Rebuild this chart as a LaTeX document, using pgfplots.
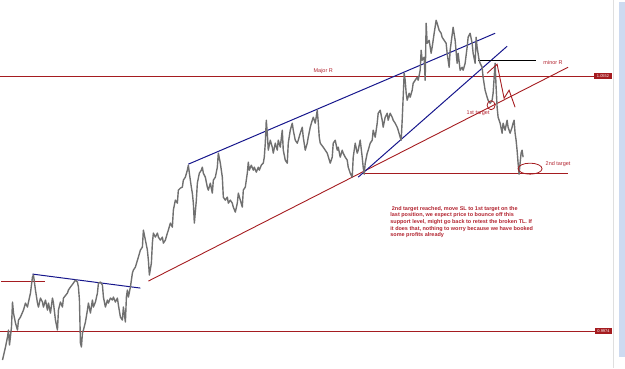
\documentclass[border=0pt]{standalone}
\usepackage{pgfplots}
\pgfplotsset{compat=1.18}
\usepackage{fontspec}
\setmainfont{Liberation Sans}
\definecolor{pricegray}{RGB}{112,112,112}
\definecolor{lred}{RGB}{165,28,32}
\definecolor{tred}{RGB}{178,36,48}
\definecolor{lblue}{RGB}{22,22,140}
\definecolor{sbar}{RGB}{205,218,240}
\begin{document}
\begin{tikzpicture}
\begin{axis}[
  scale only axis, width=625bp, height=368bp,
  xmin=0, xmax=625, ymin=0, ymax=368, y dir=reverse,
  ticks=none, axis line style={draw=none},
  clip=false
]
% scrollbar / frame decorations
\fill[sbar] (axis cs:619,2) rectangle (axis cs:625,357);
\draw[gray!25, line width=0.6pt] (axis cs:613,0) -- (axis cs:613,368);
% horizontal levels
\addplot[lred, line width=1pt] coordinates {(0,76) (594,76)};
\addplot[lred, line width=1pt] coordinates {(0,331) (595,331)};
\addplot[lred, line width=1pt] coordinates {(1,281) (45,281)};
\addplot[lred, line width=0.9pt] coordinates {(362,173) (568,173)};
% main red trendline
\addplot[lred, line width=0.9pt] coordinates {(148,281) (568,67)};
% blue trendlines
\addplot[lblue, line width=1pt] coordinates {(32,274) (140,288)};
\addplot[lblue, line width=1pt] coordinates {(188,164) (495,33)};
\addplot[lblue, line width=1pt] coordinates {(358,177) (507,46)};
% minor R
\addplot[black, line width=0.9pt] coordinates {(478,60) (536,60)};
% price
\addplot[pricegray, line width=1.4pt, line join=round] coordinates {
(2,360)(5,347)(7,337)(8,330)(9,345)(11,327)(12,302)(13,313)(15,323)(17,330)(18,320)(20,317)(23,310)(25,303)(27,307)(28,302)(30,293)(32,277)(33,275)(35,290)(37,303)(38,307)(40,298)(42,302)(43,307)(45,300)(47,310)(48,303)(50,313)(52,298)(53,303)(55,320)(57,330)(58,310)(60,302)(62,307)(63,298)(67,293)(68,290)(70,287)(73,283)(75,280)(77,282)(78,287)(79,300)(80,343)(81,347)(82,333)(83,330)(85,322)(87,310)(88,303)(90,313)(92,300)(93,307)(95,302)(97,293)(98,283)(100,282)(102,285)(103,297)(105,307)(107,300)(108,303)(110,298)(112,300)(113,297)(115,302)(117,298)(118,305)(120,317)(122,320)(123,307)(125,322)(126,297)(127,290)(128,297)
(130,287)(132,273)(133,270)(135,267)(138,257)(140,250)(142,247)(143,230)(145,240)(147,250)(148,260)(149,275)(151,263)(152,243)(153,233)(155,237)(157,233)(158,237)(160,240)(162,237)(163,243)(165,240)(167,233)(168,230)(170,223)(172,227)(173,210)(175,200)(177,203)(178,190)(180,188)(182,187)(183,180)(185,177)(187,170)(188,165)(189,173)(191,187)(192,193)(193,203)(194,223)(196,200)(197,183)(199,173)(201,170)(202,167)(203,173)(205,177)(207,187)(208,190)(210,183)(212,193)(213,180)(215,177)(217,167)(218,153)(220,163)(222,177)(223,197)(225,200)(227,197)(228,203)(230,200)(232,203)(233,207)(235,212)(237,203)(238,193)(240,200)(242,207)(243,190)(245,187)(247,173)(248,162)(249,170)(251,165)(253,170)(254,167)(256,172)(258,167)(259,170)(261,165)(263,163)(264,157)(265,143)(266,120)(267,133)(268,150)(270,140)(272,147)(273,153)(275,143)(277,150)(278,140)(280,147)(282,130)(283,150)(285,160)(287,163)(288,143)(290,130)(292,123)(293,130)(295,140)(297,143)(298,140)(300,133)(302,127)(303,137)(305,150)(307,143)(308,137)(310,127)(312,120)(313,117)(315,123)(317,110)(318,122)(319,137)(320,143)
(323,147)(327,153)(330,163)(332,157)(333,143)(335,140)(337,150)(338,147)(340,157)(342,150)(343,153)(345,157)(347,160)(348,167)(350,173)(352,177)(353,157)(355,143)(357,153)(358,150)(360,140)(362,157)(363,167)(364,174)(365,163)(367,153)(368,150)(370,143)(372,140)(373,130)(375,137)(377,123)(378,113)(380,110)(382,120)(383,127)(385,117)(387,113)(388,120)(390,113)(392,117)(393,120)(395,123)(397,127)(398,130)(400,137)(401,140)(402,120)(403,97)(404,73)(405,80)(406,93)(407,100)(409,93)(410,97)(412,90)(413,83)(415,80)(417,77)(418,80)(420,70)(421,50)(422,60)(424,57)(425,80)(426,23)(427,43)(429,40)(431,53)(432,47)(434,33)(436,20)(437,23)(439,30)(441,33)(442,37)(444,40)(446,43)(447,53)(449,67)
(450,50)(453,27)(455,40)(457,63)(458,53)(460,70)(462,67)(463,70)(465,63)(467,47)(468,37)(470,33)(472,43)(473,53)(475,63)(476,37)(477,47)(479,60)(480,63)(482,67)(483,77)(485,90)(487,97)(488,100)(490,103)(492,100)(493,93)(495,63)(496,87)(497,107)(498,117)(500,123)(502,133)(503,123)(505,130)(507,120)(508,127)(510,133)(512,127)(513,123)(514,120)(515,133)(516,140)(517,150)(518,163)(519,174)(520,163)(521,153)(522,150)(523,157)
};
% red zigzag
\addplot[lred, line width=0.9pt] coordinates {(487,73) (497,64) (504,98) (509,90) (515,107)};
% ellipses
\draw[lred, line width=0.8pt] (axis cs:491,105) ellipse [x radius=4bp, y radius=4.5bp];
\draw[lred, line width=0.8pt] (axis cs:530,168.5) ellipse [x radius=12bp, y radius=5.5bp];
% labels
\node[text=tred, font=\fontsize{5.5}{6}\selectfont] at (axis cs:323,71) {Major R};
\node[text=tred, font=\fontsize{5.5}{6}\selectfont] at (axis cs:553,62) {minor R};
\node[text=tred, font=\fontsize{5.5}{6}\selectfont] at (axis cs:478,113) {1st target};
\node[text=tred, font=\fontsize{5.5}{6}\selectfont] at (axis cs:558,164) {2nd target};
\node[anchor=north west, inner sep=0pt, align=left, text=tred, font=\fontsize{5.5}{6.7}\selectfont\bfseries] at (axis cs:390,206)
{\ 2nd target reached, move SL to 1st target on the\\
last position, we expect price to bounce off this\\
support level, might go back to retest the broken TL. If\\
it does that, nothing to worry because we have booked\\
some profits already};
% price tags
\node[fill=lred, text=white, inner sep=0.6pt, font=\fontsize{4}{4}\selectfont, minimum width=18bp, minimum height=6bp] at (axis cs:603,76) {1.0552};
\node[fill=lred, text=white, inner sep=0.6pt, font=\fontsize{4}{4}\selectfont, minimum width=17bp, minimum height=6bp] at (axis cs:603.5,331) {0.9974};
\end{axis}
\end{tikzpicture}
\end{document}
